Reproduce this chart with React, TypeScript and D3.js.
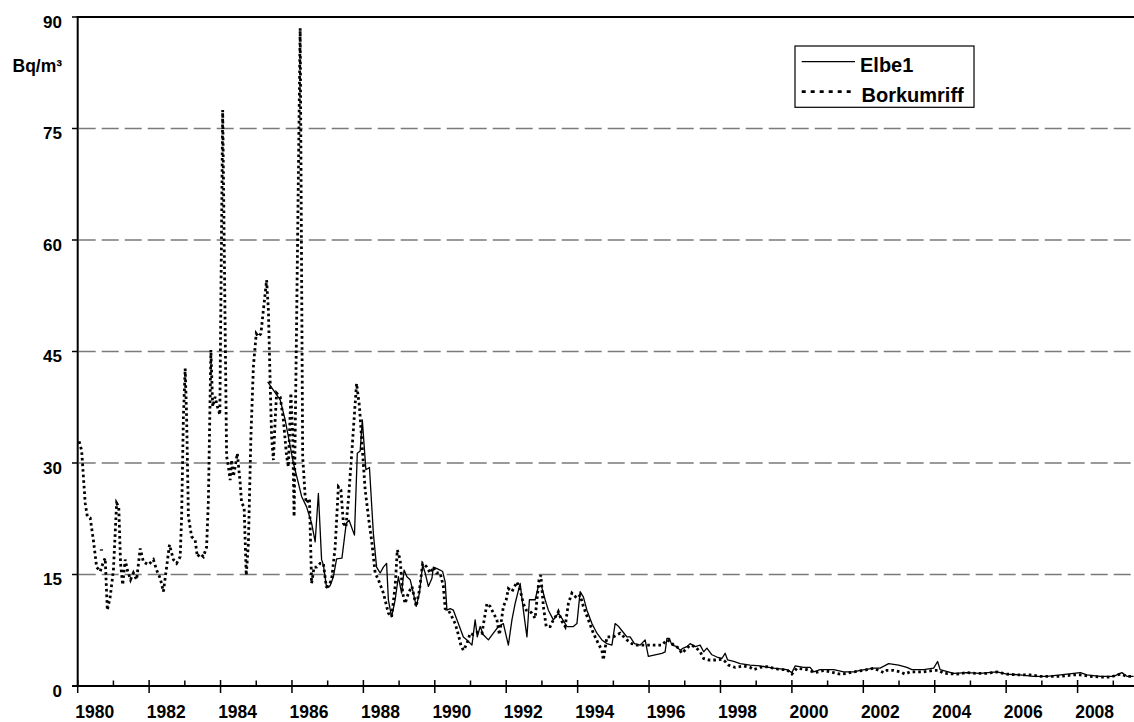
import React from "react";
import * as d3 from "d3";

// [decimal year, Bq/m³]
const borkumriff: [number, number][] = [
  [1980.04, 32.9], [1980.11, 31.7], [1980.21, 24.6], [1980.27, 22.8], [1980.35, 22.6], [1980.44, 19.6],
  [1980.53, 16.0], [1980.63, 15.4], [1980.72, 16.7], [1980.77, 17.2], [1980.83, 10.2], [1980.91, 12.0],
  [1981.0, 15.6], [1981.09, 24.6], [1981.15, 24.1], [1981.2, 16.5], [1981.26, 13.6], [1981.33, 17.0],
  [1981.39, 15.6], [1981.48, 14.3], [1981.56, 15.2], [1981.65, 14.3], [1981.75, 18.5], [1981.84, 16.7],
  [1981.98, 16.3], [1982.12, 17.0], [1982.21, 15.6], [1982.31, 14.5], [1982.4, 12.7], [1982.49, 16.0],
  [1982.57, 19.0], [1982.68, 17.0], [1982.77, 16.5], [1982.87, 17.4], [1982.91, 22.8], [1982.96, 36.2],
  [1983.01, 42.7], [1983.05, 36.2], [1983.1, 22.8], [1983.19, 20.1], [1983.29, 19.6], [1983.35, 17.4],
  [1983.43, 17.8], [1983.52, 17.4], [1983.61, 18.7], [1983.66, 25.0], [1983.73, 45.2], [1983.78, 37.6],
  [1983.85, 38.9], [1983.91, 37.6], [1983.98, 36.5], [1984.06, 77.5], [1984.17, 30.9], [1984.22, 29.5],
  [1984.27, 27.7], [1984.31, 30.4], [1984.36, 28.2], [1984.41, 29.5], [1984.47, 31.3], [1984.55, 27.3],
  [1984.59, 24.6], [1984.66, 24.1], [1984.72, 14.9], [1984.78, 19.2], [1984.85, 33.5], [1984.92, 43.0],
  [1985.0, 47.4], [1985.06, 47.0], [1985.13, 47.4], [1985.2, 50.6], [1985.29, 54.6], [1985.34, 50.6],
  [1985.39, 40.7], [1985.43, 33.5], [1985.48, 30.4], [1985.53, 35.8], [1985.57, 39.4], [1985.67, 38.9],
  [1985.76, 35.8], [1985.85, 30.9], [1985.9, 29.5], [1985.97, 39.4], [1986.02, 34.0], [1986.06, 22.8],
  [1986.12, 45.0], [1986.23, 88.5], [1986.3, 30.9], [1986.37, 25.5], [1986.41, 24.6], [1986.49, 25.2],
  [1986.55, 13.8], [1986.62, 16.0], [1986.69, 16.0], [1986.79, 16.5], [1986.88, 16.5], [1986.96, 13.4],
  [1987.02, 13.4], [1987.11, 14.3], [1987.21, 18.7], [1987.3, 26.8], [1987.37, 26.4], [1987.44, 21.9],
  [1987.51, 21.4], [1987.58, 25.0], [1987.68, 31.7], [1987.77, 38.0], [1987.81, 40.7], [1987.89, 37.6],
  [1987.96, 32.6], [1988.05, 26.4], [1988.14, 22.8], [1988.24, 19.2], [1988.33, 15.2], [1988.42, 14.3],
  [1988.56, 12.5], [1988.7, 9.8], [1988.79, 9.3], [1988.89, 13.4], [1988.95, 18.3], [1989.03, 17.0],
  [1989.1, 12.5], [1989.17, 11.1], [1989.26, 12.5], [1989.36, 13.4], [1989.48, 10.7], [1989.57, 12.9],
  [1989.66, 16.5], [1989.78, 16.0], [1989.87, 15.2], [1989.96, 16.0], [1990.05, 15.2], [1990.15, 15.2],
  [1990.24, 13.4], [1990.29, 10.4], [1990.38, 10.2], [1990.48, 9.3], [1990.57, 8.4], [1990.66, 6.9],
  [1990.73, 5.5], [1990.8, 4.8], [1990.9, 5.7], [1990.99, 7.1], [1991.08, 6.9], [1991.22, 7.3],
  [1991.32, 7.1], [1991.46, 11.1], [1991.55, 10.7], [1991.64, 9.8], [1991.74, 8.9], [1991.81, 6.9],
  [1991.88, 9.3], [1991.92, 10.7], [1992.0, 11.6], [1992.06, 13.1], [1992.16, 12.7], [1992.3, 14.0],
  [1992.39, 12.9], [1992.48, 11.1], [1992.56, 10.2], [1992.62, 10.2], [1992.72, 9.8], [1992.81, 9.1],
  [1992.86, 11.6], [1992.92, 14.3], [1992.97, 14.9], [1993.04, 10.7], [1993.12, 8.0], [1993.23, 8.0],
  [1993.32, 8.9], [1993.42, 9.6], [1993.46, 10.0], [1993.56, 8.7], [1993.65, 8.0], [1993.74, 11.1],
  [1993.84, 12.5], [1993.98, 11.8], [1994.07, 12.2], [1994.16, 10.7], [1994.3, 8.9], [1994.44, 7.1],
  [1994.58, 5.7], [1994.68, 4.8], [1994.72, 3.5], [1994.82, 6.6], [1995.0, 6.6], [1995.19, 7.1],
  [1995.38, 6.2], [1995.52, 5.7], [1995.66, 5.5], [1995.75, 5.5], [1995.94, 5.5], [1996.22, 5.5],
  [1996.36, 5.5], [1996.5, 6.2], [1996.59, 6.0], [1996.69, 5.5], [1996.83, 5.1], [1996.92, 4.4],
  [1997.06, 5.1], [1997.15, 5.5], [1997.29, 5.3], [1997.43, 4.6], [1997.53, 3.7], [1997.67, 3.5],
  [1997.85, 3.5], [1998.04, 3.6], [1998.13, 3.3], [1998.23, 2.8], [1998.41, 2.5], [1998.65, 2.7],
  [1998.83, 2.5], [1998.93, 2.2], [1999.11, 2.5], [1999.3, 2.6], [1999.49, 2.4], [1999.67, 2.2],
  [1999.86, 2.2], [2000.0, 1.6], [2000.14, 2.4], [2000.42, 2.2], [2000.65, 1.8], [2000.89, 2.1],
  [2001.17, 1.8], [2001.35, 1.6], [2001.54, 1.7], [2001.73, 1.9], [2002.01, 2.1], [2002.29, 2.4],
  [2002.57, 1.8], [2002.66, 2.1], [2002.85, 2.1], [2003.03, 1.9], [2003.17, 1.6], [2003.31, 1.9],
  [2003.69, 1.9], [2003.97, 2.1], [2004.11, 2.1], [2004.25, 1.7], [2004.62, 1.6], [2004.9, 1.8],
  [2005.18, 1.7], [2005.46, 1.7], [2005.74, 1.9], [2006.02, 1.6], [2006.3, 1.5], [2006.67, 1.5],
  [2006.95, 1.3], [2007.24, 1.3], [2007.52, 1.3], [2007.89, 1.5], [2008.08, 1.5], [2008.36, 1.3],
  [2008.64, 1.2], [2008.92, 1.2], [2009.2, 1.6], [2009.38, 1.3], [2009.57, 1.3],
];

const elbe1Early: [number, number][] = [[1980.62, 18.3], [1980.71, 18.3]];

const elbe1: [number, number][] = [
  [1985.32, 40.9], [1985.48, 39.8], [1985.67, 38.5], [1985.81, 35.8], [1985.9, 33.5], [1986.04, 30.0],
  [1986.18, 27.3], [1986.27, 25.5], [1986.41, 24.1], [1986.55, 21.9], [1986.65, 19.4], [1986.74, 25.9],
  [1986.83, 17.0], [1986.88, 16.3], [1986.97, 13.2], [1987.07, 13.5], [1987.16, 14.7], [1987.25, 17.1],
  [1987.4, 17.2], [1987.52, 21.9], [1987.6, 22.3], [1987.75, 20.3], [1987.83, 31.3], [1987.91, 31.6],
  [1987.97, 35.8], [1988.07, 29.1], [1988.17, 29.4], [1988.28, 20.5], [1988.37, 16.0], [1988.47, 15.2],
  [1988.56, 16.0], [1988.65, 16.5], [1988.7, 11.6], [1988.79, 9.3], [1988.89, 11.6], [1988.98, 14.7],
  [1989.07, 12.5], [1989.14, 15.6], [1989.22, 14.7], [1989.31, 14.3], [1989.4, 12.5], [1989.48, 10.7],
  [1989.57, 12.5], [1989.66, 16.3], [1989.73, 15.2], [1989.82, 13.4], [1989.92, 14.5], [1989.96, 16.0],
  [1990.06, 15.8], [1990.15, 15.6], [1990.22, 15.4], [1990.29, 14.0], [1990.34, 10.2], [1990.43, 10.4],
  [1990.52, 10.2], [1990.62, 8.9], [1990.8, 6.6], [1990.9, 6.2], [1991.04, 5.5], [1991.13, 8.9],
  [1991.19, 6.6], [1991.27, 8.0], [1991.36, 6.9], [1991.5, 6.2], [1991.64, 7.1], [1991.78, 8.0],
  [1991.92, 8.4], [1992.06, 5.5], [1992.16, 8.9], [1992.25, 11.1], [1992.39, 13.8], [1992.48, 10.2],
  [1992.58, 6.6], [1992.65, 11.6], [1992.81, 11.6], [1992.9, 13.4], [1992.99, 13.4], [1993.09, 11.6],
  [1993.18, 10.2], [1993.32, 8.9], [1993.46, 9.8], [1993.56, 9.1], [1993.7, 8.0], [1993.88, 8.0],
  [1993.98, 8.4], [1994.07, 12.7], [1994.16, 12.0], [1994.26, 10.2], [1994.4, 8.4], [1994.54, 7.1],
  [1994.68, 6.2], [1994.82, 5.7], [1994.96, 5.5], [1995.05, 8.4], [1995.15, 8.0], [1995.23, 7.5],
  [1995.38, 6.6], [1995.47, 6.6], [1995.59, 5.7], [1995.75, 5.5], [1995.89, 6.2], [1995.98, 4.0],
  [1996.17, 4.2], [1996.36, 4.4], [1996.45, 4.6], [1996.5, 6.4], [1996.57, 6.4], [1996.64, 5.5],
  [1996.78, 5.3], [1996.87, 4.8], [1996.96, 5.1], [1997.06, 5.3], [1997.15, 5.7], [1997.29, 5.3],
  [1997.43, 5.5], [1997.53, 4.6], [1997.62, 5.1], [1997.76, 4.2], [1997.9, 3.9], [1998.04, 3.7],
  [1998.13, 4.4], [1998.2, 3.5], [1998.37, 3.3], [1998.55, 3.0], [1998.83, 2.8], [1999.11, 2.7],
  [1999.49, 2.4], [1999.86, 2.2], [2000.0, 1.8], [2000.09, 2.7], [2000.33, 2.5], [2000.51, 2.5],
  [2000.61, 1.9], [2000.79, 2.2], [2001.17, 2.2], [2001.45, 1.9], [2001.73, 1.9], [2001.91, 2.1],
  [2002.29, 2.4], [2002.47, 2.4], [2002.71, 3.0], [2002.99, 2.8], [2003.22, 2.5], [2003.36, 2.2],
  [2003.69, 2.2], [2003.97, 2.4], [2004.08, 3.3], [2004.15, 2.2], [2004.53, 1.7], [2004.9, 1.8],
  [2005.27, 1.7], [2005.74, 1.9], [2006.02, 1.6], [2006.39, 1.5], [2006.77, 1.3], [2007.14, 1.3],
  [2007.52, 1.5], [2007.89, 1.7], [2008.08, 1.8], [2008.26, 1.5], [2008.64, 1.3], [2009.01, 1.3],
  [2009.24, 1.8], [2009.38, 1.3], [2009.57, 1.3],
];

const yTicks = [0, 15, 30, 45, 60, 75, 90];
const gridValues = [15, 30, 45, 60, 75];
const tickYears = d3.range(1980, 2010);
const labelYears = d3.range(1980, 2009, 2);
const yUnit = "Bq/m³";
const seriesNames = ["Elbe1", "Borkumriff"];

const W = 1134;
const H = 722;
const FONT = "'Liberation Sans', Arial, sans-serif";

export default function App() {
  const x = d3.scaleLinear().domain([1980, 2009.58]).range([77.7, 1134]);
  const y = d3.scaleLinear().domain([0, 90]).range([686, 17]);
  const line = d3
    .line<[number, number]>()
    .x((d) => x(d[0]))
    .y((d) => y(d[1]));

  const x0 = x(1980);
  const y0 = y(0);

  return (
    <svg
      width={W}
      height={H}
      style={{ position: "absolute", left: 0, top: 0, background: "#fff" }}
      fontFamily={FONT}
    >
      <rect x={0} y={0} width={W} height={H} fill="#fff" />
      {gridValues.map((v) => (
        <line
          key={v}
          x1={x0 + 1}
          x2={W}
          y1={y(v)}
          y2={y(v)}
          stroke="#7a7a7a"
          strokeWidth={1.5}
          strokeDasharray="17 6"
        />
      ))}
      {/* top border */}
      <line x1={x0 - 1} x2={W} y1={y(90)} y2={y(90)} stroke="#000" strokeWidth={2} />
      {/* series */}
      <path d={line(elbe1Early) || ""} fill="none" stroke="#000" strokeWidth={1.3} />
      <path d={line(elbe1) || ""} fill="none" stroke="#000" strokeWidth={1.3} strokeLinejoin="round" />
      <path
        d={line(borkumriff) || ""}
        fill="none"
        stroke="#000"
        strokeWidth={2.8}
        strokeDasharray="2.6 3"
      />
      {/* y axis */}
      <line x1={x0} x2={x0} y1={y(90) - 1} y2={y0} stroke="#000" strokeWidth={2} />
      {yTicks.map((v) => (
        <g key={v}>
          <line x1={72} x2={x0} y1={y(v)} y2={y(v)} stroke="#000" strokeWidth={1.5} />
          <text
            x={62}
            y={y(v) + 10.5}
            textAnchor="end"
            fontSize={17}
            fontWeight="bold"
            fill="#000"
          >
            {v}
          </text>
        </g>
      ))}
      <text x={12.5} y={71.5} fontSize={17.5} fontWeight="bold" fill="#000">
        {yUnit}
      </text>
      {/* x axis */}
      <line x1={72} x2={W} y1={y0} y2={y0} stroke="#000" strokeWidth={2} />
      {tickYears.map((yr) => {
        const major = yr % 2 === 0;
        return (
          <line
            key={yr}
            x1={x(yr)}
            x2={x(yr)}
            y1={major ? y0 - 6 : y0 - 5.5}
            y2={major ? y0 + 7 : y0}
            stroke="#000"
            strokeWidth={1.5}
          />
        );
      })}
      {labelYears.map((yr) => (
        <text
          key={yr}
          x={x(yr + 0.5) - 0.8}
          y={718.3}
          textAnchor="middle"
          fontSize={17.5}
          fontWeight="bold"
          fill="#000"
        >
          {yr}
        </text>
      ))}
      {/* legend */}
      <rect x={795} y={46} width={179} height={61.3} fill="#fff" stroke="#000" strokeWidth={1.2} />
      <line x1={801.7} x2={855} y1={61.7} y2={61.7} stroke="#000" strokeWidth={1.3} />
      <line
        x1={801.7}
        x2={855}
        y1={91.7}
        y2={91.7}
        stroke="#000"
        strokeWidth={2.8}
        strokeDasharray="4 5"
      />
      <text x={860} y={71.7} fontSize={20} fontWeight="bold" fill="#000">
        {seriesNames[0]}
      </text>
      <text x={861.5} y={101.7} fontSize={20} fontWeight="bold" fill="#000">
        {seriesNames[1]}
      </text>
    </svg>
  );
}
